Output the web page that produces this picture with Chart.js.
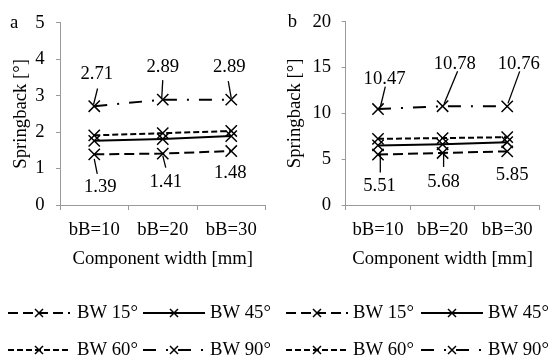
<!DOCTYPE html>
<html>
<head>
<meta charset="utf-8">
<script src="https://cdn.jsdelivr.net/npm/chart.js@4.4.0/dist/chart.umd.min.js"></script>
<style>
  body { margin: 0; background: #fff; }
  .box { position: absolute; top: 0; height: 356px; }
</style>
</head>
<body>
<div class="box" style="left:0;width:275px"><canvas id="chartA"></canvas></div>
<div class="box" style="left:275px;width:274px"><canvas id="chartB"></canvas></div>
<script>
// categories, series names and values
var widths = ['bB=10', 'bB=20', 'bB=30']
var seriesNames = ['BW 15°', 'BW 45°', 'BW 60°', 'BW 90°']

// panel a
var a_bw15 = [1.39, 1.41, 1.48]
var a_bw45 = [1.76, 1.81, 1.89]
var a_bw60 = [1.91, 1.97, 2.03]
var a_bw90 = [2.71, 2.89, 2.89]
var a_ticks = [0, 1, 2, 3, 4, 5]

// panel b
var b_bw15 = [5.51, 5.68, 5.85]
var b_bw45 = [6.5, 6.62, 6.85]
var b_bw60 = [7.22, 7.3, 7.4]
var b_bw90 = [10.47, 10.78, 10.76]
var b_ticks = [0, 5, 10, 15, 20]

var FONT = '"Liberation Serif", "Times New Roman", serif'
var FS = 18.7
var GRAY = '#9a9a9a'

// line patterns per series (15, 45, 60, 90)
var dashes = [[10, 5], [], [6, 3], [13, 10, 2, 10]]

Chart.defaults.font.family = FONT
Chart.defaults.font.size = FS
Chart.defaults.color = '#000'

// value labels with leader lines
var notesPlugin = {
  id: 'pointNotes',
  afterDatasetsDraw: function (chart, args, opts) {
    var ctx = chart.ctx
    ctx.save()
    ctx.font = FS + 'px ' + FONT
    ctx.fillStyle = '#000'
    ctx.strokeStyle = '#000'
    ctx.lineWidth = 1.3
    ctx.textAlign = 'center'
    ctx.textBaseline = 'middle'
    opts.items.forEach(function (it) {
      var pt = chart.getDatasetMeta(it.ds).data[it.idx]
      var v = chart.data.datasets[it.ds].data[it.idx]
      ctx.fillText(v.toFixed(2), pt.x + it.dx, pt.y + it.dy)
      if (it.lead) {
        ctx.beginPath()
        ctx.moveTo(pt.x + it.lead[0], pt.y + it.lead[1])
        ctx.lineTo(pt.x + it.lead[2], pt.y + it.lead[3])
        ctx.stroke()
      }
    })
    ctx.restore()
  }
}

// two-column legend with line samples, like the original
var keyPlugin = {
  id: 'keyLegend',
  afterDraw: function (chart, args, opts) {
    var ctx = chart.ctx
    chart.data.datasets.forEach(function (ds, i) {
      var col = i % 2
      var row = Math.floor(i / 2)
      var x0 = opts.keyX[col]
      var y = opts.rowY[row]
      ctx.save()
      ctx.strokeStyle = '#000'
      ctx.lineWidth = 2
      ctx.setLineDash(ds.borderDash || [])
      ctx.beginPath()
      ctx.moveTo(x0, y)
      ctx.lineTo(x0 + opts.keyW, y)
      ctx.stroke()
      ctx.setLineDash([])
      var cx = x0 + opts.keyW / 2
      var r = 4
      ctx.lineWidth = 1.5
      ctx.beginPath()
      ctx.moveTo(cx - r, y - r); ctx.lineTo(cx + r, y + r)
      ctx.moveTo(cx + r, y - r); ctx.lineTo(cx - r, y + r)
      ctx.stroke()
      ctx.font = FS + 'px ' + FONT
      ctx.fillStyle = '#000'
      ctx.textAlign = 'left'
      ctx.textBaseline = 'middle'
      ctx.fillText(ds.label, opts.textX[col], y)
      ctx.restore()
    })
  }
}

// panel letter next to the top tick
var tagPlugin = {
  id: 'panelTag',
  afterDraw: function (chart, args, opts) {
    var ctx = chart.ctx
    ctx.save()
    ctx.font = FS + 'px ' + FONT
    ctx.fillStyle = '#000'
    ctx.textAlign = 'left'
    ctx.textBaseline = 'middle'
    ctx.fillText(opts.text, opts.x, chart.chartArea.top)
    ctx.restore()
  }
}

function makeChart(id, series, ticks, cfg) {
  var datasets = series.map(function (vals, i) {
    return {
      label: seriesNames[i],
      data: vals,
      borderColor: '#000',
      borderWidth: 2,
      borderDash: dashes[i],
      fill: false,
      tension: 0,
      pointStyle: 'crossRot',
      pointRadius: 8,
      pointBorderWidth: 1.5,
      pointBorderColor: '#000',
      pointBackgroundColor: 'rgba(0,0,0,0)'
    }
  })
  return new Chart(document.getElementById(id), {
    type: 'line',
    data: { labels: widths, datasets: datasets },
    plugins: [notesPlugin, keyPlugin, tagPlugin],
    options: {
      responsive: true,
      maintainAspectRatio: false,
      animation: false,
      events: [],
      layout: { padding: cfg.pad },
      plugins: {
        legend: { display: false },
        tooltip: { enabled: false },
        pointNotes: { items: cfg.notes },
        keyLegend: cfg.key,
        panelTag: cfg.tag
      },
      scales: {
        x: {
          offset: true,
          grid: { display: true, offset: true, drawOnChartArea: false, drawTicks: true, tickLength: 5, color: GRAY },
          border: { display: true, color: GRAY, width: 1 },
          ticks: { padding: 9, color: '#000' },
          title: { display: true, text: 'Component width [mm]', color: '#000', padding: { top: 6, bottom: 0 } },
          afterFit: function (scale) { scale.height = 65 }
        },
        y: {
          min: ticks[0],
          max: ticks[ticks.length - 1],
          ticks: { stepSize: ticks[1] - ticks[0], padding: cfg.tickPad, color: '#000' },
          grid: { drawOnChartArea: false, drawTicks: true, tickLength: 4, color: GRAY },
          border: { display: true, color: GRAY, width: 1 },
          title: { display: true, text: 'Springback [°]', color: '#000', padding: { top: cfg.titlePad, bottom: 0 } },
          afterFit: function (scale) { scale.width = cfg.yWidth }
        }
      }
    }
  })
}

makeChart('chartA', [a_bw15, a_bw45, a_bw60, a_bw90], a_ticks, {
  pad: { top: 20.7, left: 0, right: 5, bottom: 86 },
  yWidth: 60,
  tickPad: 11.5,
  titlePad: 9.6,
  tag: { text: 'a', x: 10 },
  key: { keyX: [8, 143], textX: [77, 210], rowY: [313, 350], keyW: 62 },
  notes: [
    { ds: 3, idx: 0, dx: 2.5, dy: -31.7, lead: [3.3, -17.7, -0.7, -1.7] },
    { ds: 3, idx: 1, dx: 0, dy: -32.5, lead: [0, -19.5, -1, -1.5] },
    { ds: 3, idx: 2, dx: -2, dy: -32.5, lead: [-3, -18.5, 0, -1.5] },
    { ds: 0, idx: 0, dx: 6, dy: 32.5, lead: [3, 19.5, 0, 4.5] },
    { ds: 0, idx: 1, dx: 3, dy: 28, lead: [3, 14, 0, 2] },
    { ds: 0, idx: 2, dx: -1, dy: 22 }
  ]
})

makeChart('chartB', [b_bw15, b_bw45, b_bw60, b_bw90], b_ticks, {
  pad: { top: 20.7, left: 0, right: 1, bottom: 86 },
  yWidth: 70.7,
  tickPad: 10.5,
  titlePad: 8.8,
  tag: { text: 'b', x: 12.7 },
  key: { keyX: [11, 146], textX: [78, 213], rowY: [313, 350], keyW: 62 },
  notes: [
    { ds: 3, idx: 0, dx: 6.6, dy: -30, lead: [7.3, -22.5, 2.3, -1.8] },
    { ds: 3, idx: 1, dx: 12.2, dy: -42.5, lead: [15, -35, 1.5, -2.4] },
    { ds: 3, idx: 2, dx: 11.6, dy: -42.5, lead: [12.5, -35, 0.8, -3] },
    { ds: 0, idx: 0, dx: 1.6, dy: 32, lead: [2.3, 18, 2.3, -1] },
    { ds: 0, idx: 1, dx: 1, dy: 29.5, lead: [1, 14, 1, 0] },
    { ds: 0, idx: 2, dx: 5, dy: 24 }
  ]
})
</script>
</body>
</html>
